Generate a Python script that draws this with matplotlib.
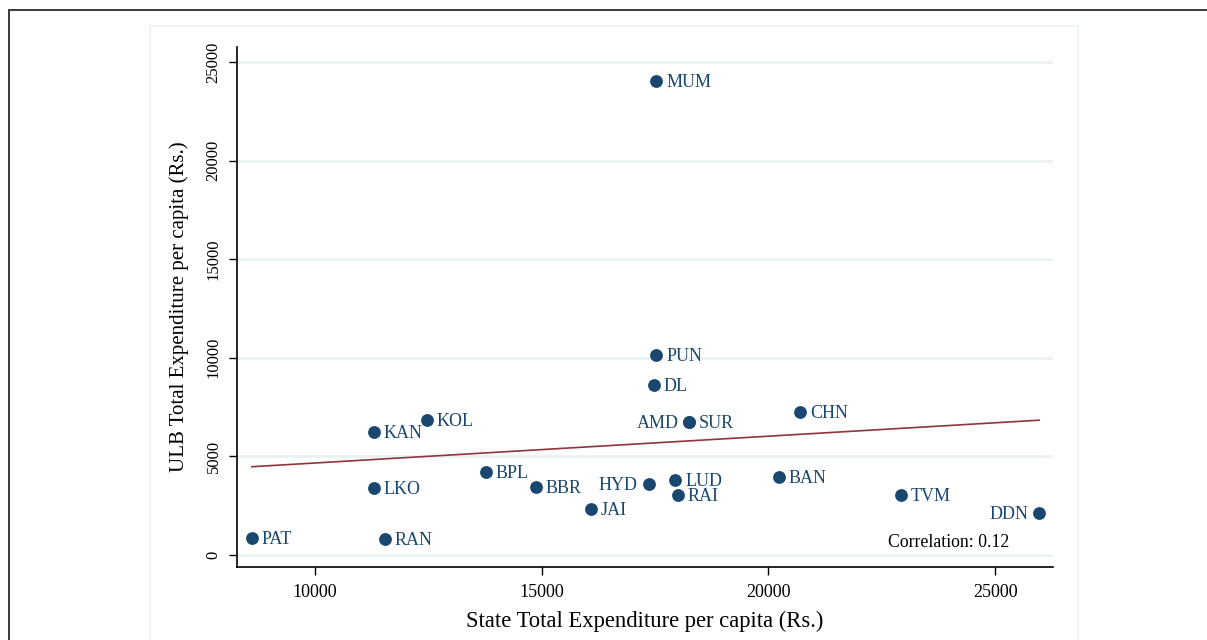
import matplotlib.pyplot as plt
import numpy as np
from matplotlib.patches import Rectangle

# city codes and per-capita expenditures (Rs.)
cities = ["PAT", "RAN", "KAN", "LKO", "KOL", "BPL", "BBR", "JAI", "HYD", "DL",
          "PUN", "MUM", "AMD", "SUR", "LUD", "RAI", "BAN", "CHN", "TVM", "DDN"]
state_exp = [8610, 11540, 11300, 11300, 12470, 13770, 14870, 16080, 17360, 17470,
             17530, 17530, 18260, 18260, 17950, 18000, 20240, 20700, 22930, 25970]
ulb_exp = [860, 830, 6240, 3400, 6850, 4210, 3450, 2330, 3600, 8620,
           10140, 24040, 6740, 6740, 3800, 3040, 3960, 7250, 3040, 2130]
left_labels = ["AMD", "HYD", "DDN"]

navy = "#1a476f"
maroon = "#90353b"
grid_col = "#eaf2f3"

plt.rcParams["font.family"] = ["Liberation Serif", "DejaVu Serif"]

fig = plt.figure(figsize=(12.07, 6.4), dpi=100)

# outer frame and inner plot region
fig.patches.append(Rectangle((9 / 1207, -0.1), 1.2, 1.1 - 10 / 640, transform=fig.transFigure,
                             fill=False, edgecolor="#3a3a3a", linewidth=1.4))
fig.patches.append(Rectangle((150 / 1207, -0.1), (1078 - 150) / 1207, 1.1 - 26 / 640,
                             transform=fig.transFigure, fill=False, edgecolor=grid_col, linewidth=1.2))

ax = fig.add_axes([237 / 1207, (640 - 567) / 640, (1053 - 237) / 1207, (567 - 47) / 640])
ax.set_xlim(8282, 26277)
ax.set_ylim(-608, 25760)

x = np.array(state_exp, dtype=float)
y = np.array(ulb_exp, dtype=float)

# fitted line
slope, icpt = np.polyfit(x, y, 1)
xs = np.array([x.min(), x.max()])
ax.plot(xs, icpt + slope * xs, color=maroon, linewidth=1.2, zorder=2)

ax.scatter(x, y, s=85, color=navy, zorder=3, linewidths=0)

for name, xv, yv in zip(cities, state_exp, ulb_exp):
    if name in left_labels:
        ax.annotate(name, (xv, yv), xytext=(-8, -1), textcoords="offset points",
                    ha="right", va="center", color=navy, fontsize=13)
    else:
        ax.annotate(name, (xv, yv), xytext=(7, -1), textcoords="offset points",
                    ha="left", va="center", color=navy, fontsize=13)

ax.text(0.798, 0.03, "Correlation: 0.12", transform=ax.transAxes, fontsize=12.8,
        ha="left", va="bottom", color="black")

ax.set_xticks([10000, 15000, 20000, 25000])
ax.set_yticks([0, 5000, 10000, 15000, 20000, 25000])
ax.tick_params(axis="both", direction="out", length=6, width=1, color="black")
ax.tick_params(axis="x", pad=6, labelsize=13)
ax.tick_params(axis="y", pad=5, labelsize=12)
for lbl in ax.get_yticklabels():
    lbl.set_rotation(90)
    lbl.set_va("center")

ax.grid(axis="y", color=grid_col, linewidth=2)
ax.set_axisbelow(True)
for side in ["top", "right"]:
    ax.spines[side].set_visible(False)
for side in ["left", "bottom"]:
    ax.spines[side].set_linewidth(1.2)

ax.set_xlabel("State Total Expenditure per capita (Rs.)", fontsize=16.3, labelpad=7)
ax.set_ylabel("ULB Total Expenditure per capita (Rs.)", fontsize=15, labelpad=12)

fig.savefig("out.png", dpi=100)
